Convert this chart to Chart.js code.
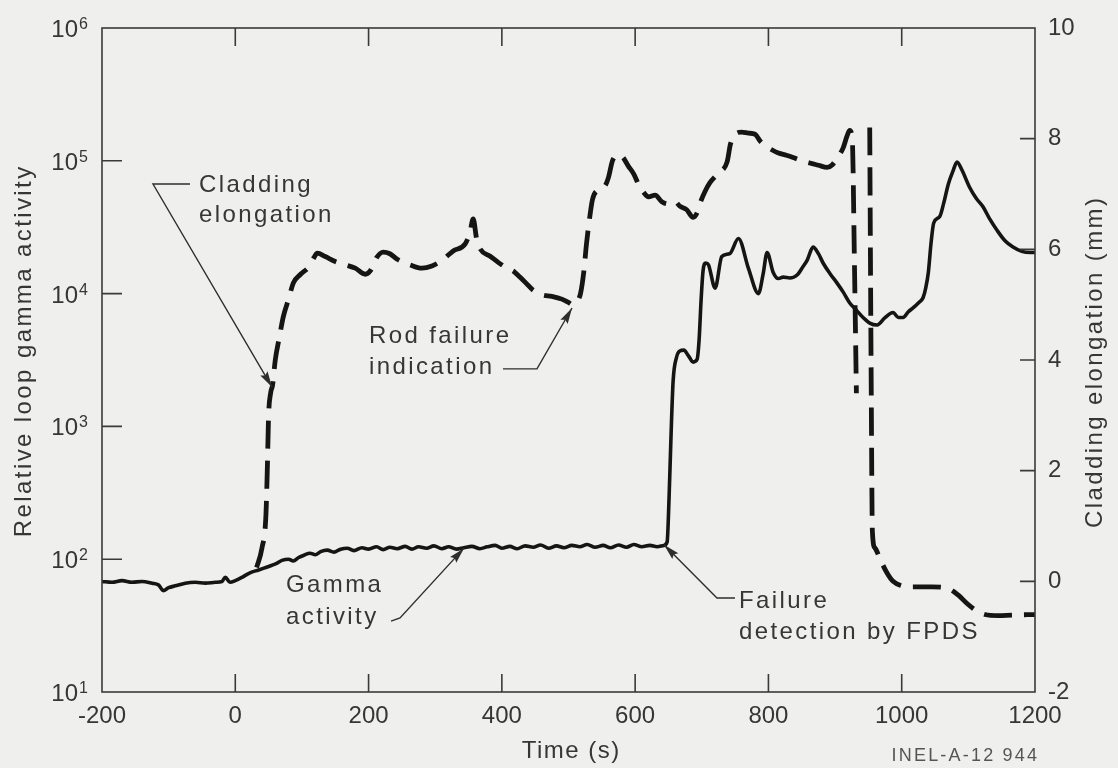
<!DOCTYPE html>
<html>
<head>
<meta charset="utf-8">
<script src="https://cdn.jsdelivr.net/npm/chart.js@4.4.1/dist/chart.umd.min.js"></script>
<style>
  html, body { margin: 0; padding: 0; background: #efefed; }
  #wrap { width: 1118px; height: 768px; position: relative; }
</style>
</head>
<body>
<div id="wrap"><canvas id="c"></canvas></div>
<script>
// Time axis (s) and the two measured traces
const timeTicks = [-200, 0, 200, 400, 600, 800, 1000, 1200];
const activityDecades = [1e1, 1e2, 1e3, 1e4, 1e5, 1e6];
const elongationTicks = [-2, 0, 2, 4, 6, 8, 10];

// Relative loop gamma activity (solid trace, left log axis)
const gammaTime = [
  -200, -185, -170, -155, -140, -125, -115, -108, -100, -90,
  -75, -60, -45, -30, -20, -15, -8, 0, 10, 22,
  35, 44, 55, 62, 70, 80, 87, 95, 103, 112,
  120, 128, 138, 148, 158, 168, 178, 190, 200, 212,
  222, 232, 243, 255, 265, 275, 287, 298, 310, 320,
  332, 343, 355, 367, 378, 390, 400, 412, 423, 435,
  447, 458, 470, 482, 493, 505, 517, 528, 540, 552,
  563, 575, 587, 598, 610, 622, 633, 643, 648, 651,
  654, 657, 662, 667, 673, 680, 687, 693, 696, 699,
  702, 706, 710, 720, 730, 742, 755, 770, 785, 792,
  798, 807, 815, 822, 832, 843, 852, 858, 867, 875,
  882, 893, 903, 912, 922, 932, 942, 952, 963, 975,
  987, 995, 1002, 1010, 1017, 1025, 1032, 1036, 1040, 1044,
  1048, 1057, 1063, 1070, 1077, 1083, 1090, 1102, 1112, 1122,
  1132, 1143, 1155, 1167, 1180, 1193, 1200
];
const gammaActivity = [
  68, 67, 69, 67, 68, 66, 64, 58, 61, 63,
  66, 67, 66, 67, 68, 73, 67, 69, 73, 79,
  83, 86, 90, 93, 98, 100, 97, 103, 107, 111,
  108, 114, 117, 113, 119, 121, 116, 122, 119, 124,
  118, 123, 120, 125, 119, 124, 121, 126, 120, 124,
  119, 122, 125, 120, 124, 127, 121, 125, 120, 126,
  123, 128, 121, 126, 122, 127, 124, 129, 123, 127,
  122, 128, 123, 129, 124, 127, 124, 127, 135, 300,
  900, 2200, 3300, 3700, 3750, 3400, 3050, 3200, 4500, 9000,
  15000, 17000, 16500, 11000, 19000, 20000, 26000, 15500, 10000, 14000,
  20400, 14500, 13000, 13300, 13100, 13800, 16000, 17800, 22400, 20000,
  17000, 14000, 12000, 10300, 8500, 7500, 6600, 6000, 5800, 6600,
  7200, 6600, 6600, 7300, 7800, 8500, 9300, 11000, 14500, 24000,
  34000, 38000, 48000, 67000, 84000, 98000, 86000, 63000, 52000, 45000,
  36500, 30000, 25000, 22400, 20800, 20400, 20400
];

// Cladding elongation in mm (dashed trace, right axis); null = break in the record
const elongTime = [
  32, 40, 46, 48, 50, 53, 56, 60, 66, 72,
  80, 87, 98, 110, 118, 123, 135, 150, 165, 180,
  195, 203, 212, 222, 232, 243, 262, 280, 295, 310,
  327, 345, 352, 357, 362, 368, 382, 395, 405, 418,
  427, 437, 447, 460, 475, 490, 500, 506, 512, 518,
  523, 527, 531, 536, 545, 555, 560, 566, 572, 580,
  590, 598, 606, 612, 620, 630, 640, 650, 660, 667,
  677, 687, 693, 697, 705, 712, 725, 738, 743, 750,
  760, 770, 780, 788, 797, 805, 815, 827, 837, 850,
  862, 875, 888, 896, 903, 912, 918, 922, 926, 929,
  932, 941, 952, 954, 956, 960, 968, 978, 987, 1000,
  1010, 1045, 1070, 1085, 1098, 1112, 1125, 1145, 1165, 1200
];
const elongMm = [
  0.25, 0.6, 1.2, 2.0, 3.0, 3.4, 3.55, 4.0, 4.4, 4.78,
  5.1, 5.39, 5.55, 5.68, 5.85, 5.93, 5.87, 5.78, 5.72, 5.66,
  5.55, 5.62, 5.85, 5.95, 5.92, 5.82, 5.72, 5.66, 5.7, 5.8,
  5.97, 6.1, 6.3, 6.55, 6.2, 6.0, 5.88, 5.76, 5.68, 5.6,
  5.5, 5.38, 5.26, 5.18, 5.15, 5.1, 5.04, 5.0, 5.05, 5.2,
  5.6, 6.1, 6.5, 6.9, 7.08, 7.15, 7.3, 7.6, 7.7, 7.68,
  7.5, 7.36, 7.15, 7.04, 6.95, 6.98, 6.86, 6.82, 6.86, 6.78,
  6.72, 6.58, 6.66, 6.82, 7.05, 7.2, 7.38, 7.58, 7.9, 8.08,
  8.12, 8.1, 8.08, 7.95, 7.86, 7.8, 7.74, 7.7, 7.66, 7.6,
  7.56, 7.52, 7.48, 7.53, 7.65, 7.83, 8.05, 8.15, 7.95, 5.8,
  3.4, null, 8.2, 4.0, 0.9, 0.6, 0.39, 0.15, 0.0, -0.08,
  -0.1, -0.1, -0.13, -0.25, -0.4, -0.53, -0.6, -0.62, -0.61, -0.6
];

// Callouts: text anchors and leader paths in (time s, elongation mm) coordinates
const callouts = [
  { text: [['Cladding', -54.4, 7.16], ['elongation', -54.4, 6.62]],
    leader: [[-68.0, 7.18], [-123.5, 7.18], [55.1, 3.51]] },
  { text: [['Rod failure', 200.6, 4.42], ['indication', 200.6, 3.86]],
    leader: [[401.7, 3.84], [452.7, 3.84], [505.3, 4.94]] },
  { text: [['Gamma', 76.1, -0.07], ['activity', 76.1, -0.65]],
    leader: [[233.7, -0.72], [247.2, -0.66], [343.2, 0.60]] },
  { text: [['Failure', 755.8, -0.37], ['detection by FPDS', 755.8, -0.93]],
    leader: [[749.8, -0.30], [722.8, -0.30], [643.3, 0.66]] }
];

const FONT = "'Liberation Sans', Arial, Helvetica, sans-serif";
const INK = '#151515';
const AXIS = '#3a3a3a';
const TEXT = '#363636';

function spacedText(ctx, str, x, y, size, spacing, align) {
  ctx.font = size + 'px ' + FONT;
  ctx.letterSpacing = '0px';
  ctx.textAlign = 'left';
  const w = ctx.measureText(str).width + spacing * (str.length - 1);
  let x0 = x;
  if (align === 'center') x0 = x - w / 2;
  else if (align === 'right') x0 = x - w;
  ctx.letterSpacing = spacing + 'px';
  ctx.fillText(str, x0, y);
  ctx.letterSpacing = '0px';
}

function arrowHead(ctx, from, tip) {
  const ang = Math.atan2(tip[1] - from[1], tip[0] - from[0]);
  const len = 16, half = 4.2;
  ctx.save();
  ctx.translate(tip[0], tip[1]);
  ctx.rotate(ang);
  ctx.beginPath();
  ctx.moveTo(0, 0);
  ctx.lineTo(-len, -half);
  ctx.lineTo(-len * 0.85, 0);
  ctx.lineTo(-len, half);
  ctx.closePath();
  ctx.fill();
  ctx.restore();
}

const chartFrame = {
  id: 'chartFrame',
  beforeDraw(chart) {
    const { ctx, width, height } = chart;
    ctx.save();
    ctx.fillStyle = '#efefed';
    ctx.fillRect(0, 0, width, height);
    ctx.restore();
  },
  afterDraw(chart) {
    const { ctx, chartArea: a, scales } = chart;
    const xs = scales.x, yl = scales.yActivity, yr = scales.yElong;
    ctx.save();

    // frame and inward tick marks
    ctx.strokeStyle = AXIS;
    ctx.lineWidth = 1.6;
    ctx.strokeRect(a.left, a.top, a.right - a.left, a.bottom - a.top);
    ctx.beginPath();
    timeTicks.slice(1, -1).forEach(v => {
      const px = xs.getPixelForValue(v);
      ctx.moveTo(px, a.top); ctx.lineTo(px, a.top + 18);
      ctx.moveTo(px, a.bottom); ctx.lineTo(px, a.bottom - 18);
    });
    activityDecades.slice(1, -1).forEach(v => {
      const py = yl.getPixelForValue(v);
      ctx.moveTo(a.left, py); ctx.lineTo(a.left + 20, py);
    });
    elongationTicks.slice(1, -1).forEach(v => {
      const py = yr.getPixelForValue(v);
      ctx.moveTo(a.right, py); ctx.lineTo(a.right - 15, py);
    });
    ctx.stroke();

    // decade labels 10^n
    ctx.fillStyle = TEXT;
    ctx.textBaseline = 'alphabetic';
    activityDecades.forEach(v => {
      const py = yl.getPixelForValue(v);
      const exp = String(Math.round(Math.log10(v)));
      ctx.font = '24px ' + FONT;
      ctx.textAlign = 'right';
      ctx.fillText('10', a.left - 24, py + 9);
      ctx.font = '16px ' + FONT;
      ctx.textAlign = 'left';
      ctx.fillText(exp, a.left - 23, py + 1);
    });

    // axis titles
    const midY = (a.top + a.bottom) / 2;
    ctx.save();
    ctx.translate(a.left - 71, midY - 8);
    ctx.rotate(-Math.PI / 2);
    spacedText(ctx, 'Relative loop gamma activity', 0, 0, 24, 2.4, 'center');
    ctx.restore();
    ctx.save();
    ctx.translate(a.right + 67, midY + 3);
    ctx.rotate(-Math.PI / 2);
    spacedText(ctx, 'Cladding elongation (mm)', 0, 0, 24, 2.4, 'center');
    ctx.restore();
    spacedText(ctx, 'Time (s)', (a.left + a.right) / 2 + 2, a.bottom + 66, 24, 1.5, 'center');

    // callouts
    ctx.strokeStyle = '#2e2e2e';
    ctx.fillStyle = '#2e2e2e';
    ctx.lineWidth = 1.4;
    callouts.forEach(c => {
      const pts = c.leader.map(p => [xs.getPixelForValue(p[0]), yr.getPixelForValue(p[1])]);
      ctx.beginPath();
      ctx.moveTo(pts[0][0], pts[0][1]);
      for (let i = 1; i < pts.length; i++) ctx.lineTo(pts[i][0], pts[i][1]);
      ctx.stroke();
      arrowHead(ctx, pts[pts.length - 2], pts[pts.length - 1]);
      ctx.fillStyle = TEXT;
      ctx.textBaseline = 'middle';
      c.text.forEach(t => {
        spacedText(ctx, t[0], xs.getPixelForValue(t[1]), yr.getPixelForValue(t[2]), 24, 2.4, 'left');
      });
      ctx.fillStyle = '#2e2e2e';
      ctx.textBaseline = 'alphabetic';
    });

    // drawing number
    ctx.fillStyle = '#555555';
    ctx.textBaseline = 'alphabetic';
    spacedText(ctx, 'INEL-A-12 944', a.right + 2, a.bottom + 69, 18, 2.2, 'right');

    ctx.restore();
  }
};

new Chart(document.getElementById('c'), {
  type: 'line',
  data: {
    datasets: [
      {
        label: 'Gamma activity',
        data: gammaTime.map((t, i) => ({ x: t, y: gammaActivity[i] })),
        yAxisID: 'yActivity',
        borderColor: INK,
        borderWidth: 3.6,
        pointRadius: 0,
        cubicInterpolationMode: 'monotone',
        fill: false
      },
      {
        label: 'Cladding elongation',
        data: elongTime.map((t, i) => ({ x: t, y: elongMm[i] })),
        yAxisID: 'yElong',
        borderColor: INK,
        borderWidth: 4.8,
        borderDash: [28, 12],
        pointRadius: 0,
        cubicInterpolationMode: 'monotone',
        spanGaps: false,
        fill: false
      }
    ]
  },
  options: {
    responsive: true,
    maintainAspectRatio: false,
    animation: false,
    devicePixelRatio: 1,
    layout: { padding: { top: 28, left: 0, right: 0, bottom: 0 } },
    plugins: { legend: { display: false }, tooltip: { enabled: false } },
    scales: {
      x: {
        type: 'linear', min: -200, max: 1200,
        afterBuildTicks: s => { s.ticks = timeTicks.map(v => ({ value: v })); },
        afterFit: s => { s.height = 76; },
        grid: { display: false, drawTicks: false },
        border: { display: false },
        ticks: {
          padding: 10, color: TEXT, autoSkip: false, maxRotation: 0,
          font: { family: FONT, size: 24 },
          callback: v => String(v)
        }
      },
      yActivity: {
        type: 'logarithmic', position: 'left', min: 10, max: 1e6,
        afterBuildTicks: s => { s.ticks = activityDecades.map(v => ({ value: v })); },
        afterFit: s => { s.width = 102; },
        grid: { display: false, drawTicks: false },
        border: { display: false },
        ticks: { display: false }
      },
      yElong: {
        type: 'linear', position: 'right', min: -2, max: 10,
        afterBuildTicks: s => { s.ticks = elongationTicks.map(v => ({ value: v })); },
        afterFit: s => { s.width = 83; },
        grid: { display: false, drawTicks: false },
        border: { display: false },
        ticks: {
          padding: 13, color: TEXT, autoSkip: false,
          font: { family: FONT, size: 24 },
          callback: v => String(v)
        }
      }
    }
  },
  plugins: [chartFrame]
});
</script>
</body>
</html>
